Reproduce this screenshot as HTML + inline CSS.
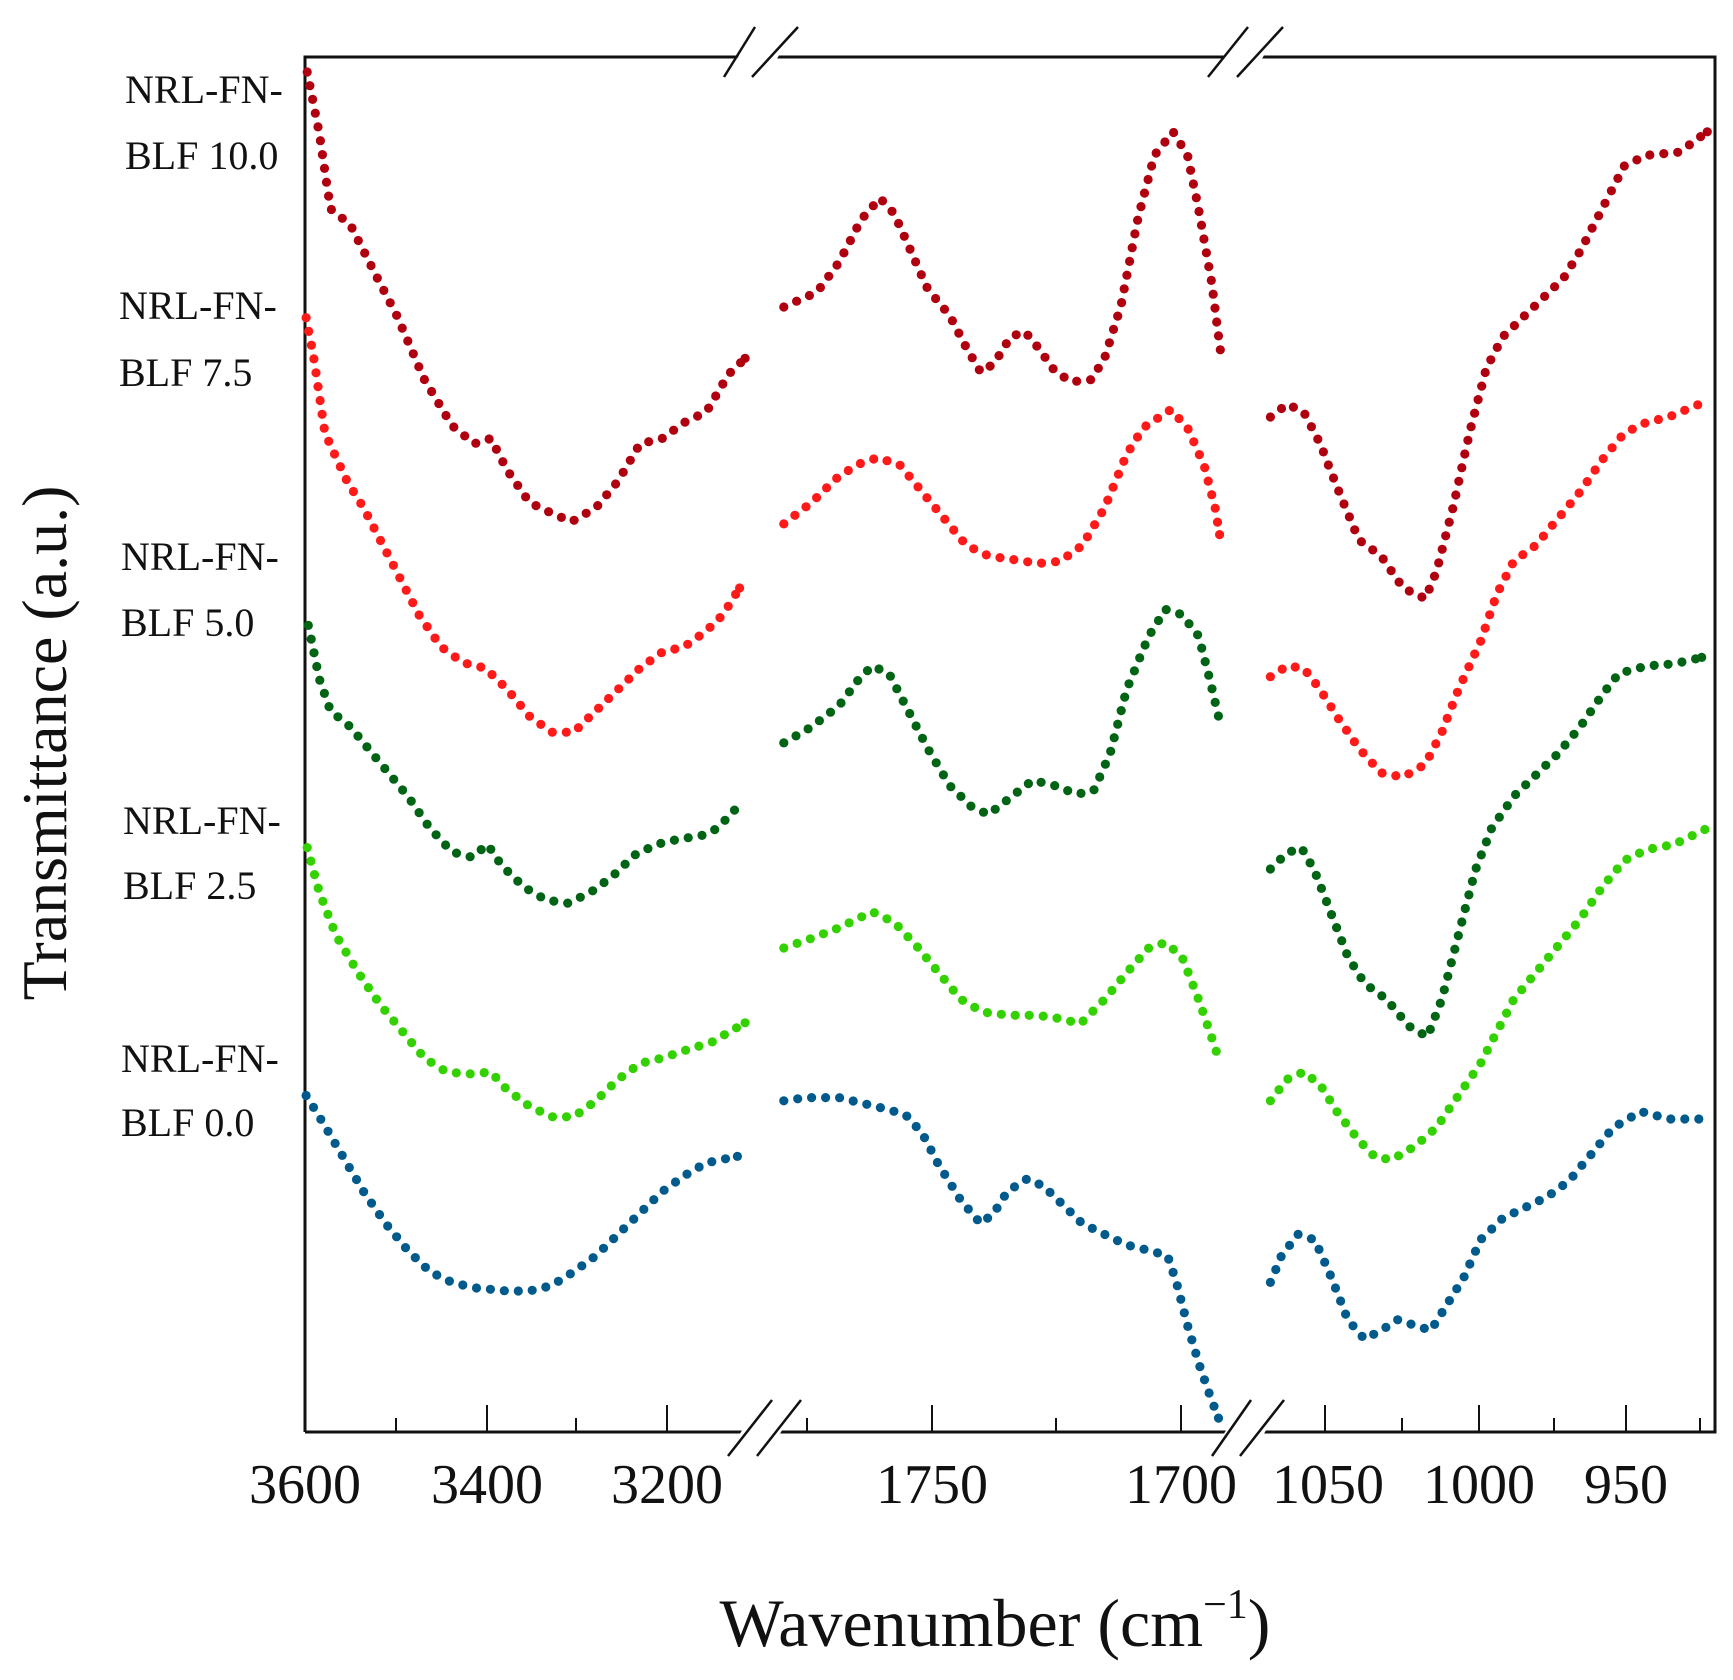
<!DOCTYPE html>
<html><head><meta charset="utf-8"><style>
html,body{margin:0;padding:0;background:#fff;}
svg{display:block;}
text{font-family:"Liberation Serif",serif;fill:#111;}
</style></head><body>
<svg id="s" width="1733" height="1680" viewBox="0 0 1733 1680" xmlns="http://www.w3.org/2000/svg">
<g stroke="#111" stroke-width="3" fill="none">
<path d="M305,1432 L305,57 L1715,57 L1715,1432 L305,1432"/>
</g>
<g stroke="#111" stroke-width="2">
<line x1="396" y1="1432" x2="396" y2="1418"/><line x1="487" y1="1432" x2="487" y2="1405"/>
<line x1="576" y1="1432" x2="576" y2="1418"/><line x1="667" y1="1432" x2="667" y2="1405"/>
<line x1="807" y1="1432" x2="807" y2="1418"/><line x1="932" y1="1432" x2="932" y2="1405"/>
<line x1="1056" y1="1432" x2="1056" y2="1418"/><line x1="1181" y1="1432" x2="1181" y2="1405"/>
<line x1="1325" y1="1432" x2="1325" y2="1405"/><line x1="1402" y1="1432" x2="1402" y2="1418"/>
<line x1="1479" y1="1432" x2="1479" y2="1405"/><line x1="1554" y1="1432" x2="1554" y2="1418"/>
<line x1="1626" y1="1432" x2="1626" y2="1405"/><line x1="1700" y1="1432" x2="1700" y2="1418"/>
</g>
<g fill="#fff" stroke="none">
<polygon points="741,52 781,52 775,62 735,62"/><polygon points="1226,52 1266,52 1260,62 1220,62"/>
<polygon points="744,1427 784,1427 778,1437 738,1437"/><polygon points="1228,1427 1268,1427 1262,1437 1222,1437"/>
</g>
<g stroke="#111" stroke-width="2.5">
<line x1="724" y1="77" x2="755" y2="27"/><line x1="752" y1="77" x2="798" y2="27"/>
<line x1="1208" y1="77" x2="1248" y2="27"/><line x1="1237" y1="77" x2="1283" y2="27"/>
<line x1="728" y1="1456" x2="772" y2="1400"/><line x1="757" y1="1456" x2="801" y2="1400"/>
<line x1="1212" y1="1456" x2="1251" y2="1400"/><line x1="1240" y1="1456" x2="1284" y2="1400"/>
</g>
<g font-size="56" text-anchor="middle">
<text x="305" y="1503">3600</text><text x="487" y="1503">3400</text><text x="667" y="1503">3200</text>
<text x="932" y="1503">1750</text><text x="1181" y="1503">1700</text>
<text x="1328" y="1503">1050</text><text x="1479" y="1503">1000</text><text x="1626" y="1503">950</text>
</g>
<text x="995" y="1646" font-size="68" text-anchor="middle">Wavenumber (cm<tspan font-size="42" dy="-28">−1</tspan><tspan dy="28">)</tspan></text>
<text transform="translate(66,743) rotate(-90)" font-size="64" text-anchor="middle">Transmittance (a.u.)</text>
<g font-size="40">
<text x="125" y="103">NRL-FN-</text><text x="125" y="169">BLF 10.0</text>
<text x="119" y="319">NRL-FN-</text><text x="119" y="386">BLF 7.5</text>
<text x="121" y="570">NRL-FN-</text><text x="121" y="636">BLF 5.0</text>
<text x="123" y="834">NRL-FN-</text><text x="123" y="899">BLF 2.5</text>
<text x="121" y="1072">NRL-FN-</text><text x="121" y="1136">BLF 0.0</text>
</g>
<g id="d"></g>
</svg>
<script>
var S={
"#b0000f":[
[[279,62],[290,120],[300,190],[318,205],[340,250],[360,290],[385,350],[410,393],[430,410],[445,405],[460,435],[480,465],[500,475],[518,483],[540,470],[560,445],[580,410],[600,405],[620,390],[640,380],[660,345],[675,330]],
[[710,282],[740,268],[760,240],[780,200],[797,180],[810,195],[825,230],[840,265],[860,290],[875,320],[888,343],[900,335],[915,310],[928,305],[940,320],[955,342],[970,352],[988,350],[1000,330],[1015,280],[1030,200],[1045,140],[1062,118],[1075,140],[1085,190],[1097,260],[1105,325]],
[[1150,385],[1165,373],[1180,380],[1195,410],[1210,450],[1230,500],[1250,515],[1270,545],[1290,555],[1300,530],[1315,470],[1330,400],[1345,340],[1360,310],[1380,290],[1400,270],[1415,255],[1430,230],[1450,190],[1470,150],[1490,140],[1520,137],[1545,118]]],
"#ff1a1a":[
[[278,292],[285,330],[295,400],[315,445],[330,470],[345,500],[360,530],[380,570],[400,600],[420,615],[440,620],[460,640],[480,665],[500,680],[520,680],[540,660],[560,640],[580,620],[600,605],[620,600],[640,585],[655,570],[670,545]],
[[710,485],[735,465],[760,440],[780,428],[795,423],[815,430],[835,455],[855,480],[875,505],[895,515],[915,518],[940,522],[960,520],[980,505],[1000,470],[1020,420],[1035,395],[1060,378],[1075,395],[1090,430],[1100,470],[1104,495]],
[[1150,628],[1165,618],[1180,620],[1195,640],[1210,665],[1230,695],[1250,718],[1270,722],[1290,710],[1305,680],[1320,640],[1340,595],[1355,550],[1370,520],[1390,505],[1410,480],[1430,455],[1450,425],[1470,400],[1490,390],[1510,385],[1540,372]]],
"#006414":[
[[280,580],[290,630],[300,660],[318,675],[330,690],[350,715],[370,740],[390,770],[410,792],[428,797],[442,785],[455,805],[475,825],[495,837],[515,840],[535,830],[555,815],[575,795],[595,785],[615,780],[635,777],[650,770],[668,750]],
[[710,690],[735,675],[760,655],[778,630],[790,618],[805,625],[820,655],[840,695],[860,730],[880,750],[895,757],[910,745],[935,725],[955,730],[975,738],[990,735],[1005,700],[1020,640],[1040,590],[1055,565],[1070,570],[1085,590],[1095,630],[1103,665]],
[[1150,808],[1165,793],[1178,788],[1190,810],[1205,850],[1220,890],[1235,915],[1255,930],[1275,955],[1292,965],[1305,930],[1320,870],[1335,810],[1350,770],[1370,740],[1390,720],[1410,700],[1430,675],[1450,645],[1465,625],[1490,618],[1515,616],[1540,610]]],
"#33d100":[
[[279,788],[290,830],[305,870],[325,905],[345,935],[365,960],[385,985],[405,998],[425,1000],[445,998],[460,1015],[480,1030],[500,1040],[520,1040],[540,1025],[560,1005],[580,990],[600,985],[620,978],[645,970],[675,952]],
[[710,882],[735,873],[760,863],[790,848],[810,858],[830,880],[850,905],[870,930],[890,942],[915,945],[940,945],[960,948],[978,953],[1000,930],[1020,905],[1040,882],[1055,877],[1070,890],[1085,930],[1095,960],[1102,982]],
[[1150,1025],[1165,1005],[1180,998],[1195,1010],[1210,1035],[1230,1062],[1245,1078],[1260,1080],[1280,1068],[1300,1050],[1320,1020],[1340,990],[1355,960],[1370,930],[1390,905],[1410,880],[1430,855],[1450,825],[1470,800],[1490,790],[1515,785],[1545,770]]],
"#005a8c":[
[[278,1020],[290,1040],[310,1075],[330,1110],[350,1140],[370,1165],[390,1185],[410,1195],[430,1200],[460,1203],[480,1203],[500,1198],[520,1185],[540,1170],[560,1150],[580,1130],[600,1110],[620,1095],[640,1083],[668,1077]],
[[710,1025],[730,1022],[760,1022],[780,1027],[800,1032],[820,1038],[835,1055],[850,1085],[870,1118],[888,1140],[900,1130],[912,1110],[930,1098],[945,1105],[960,1120],[980,1140],[1000,1150],[1020,1160],[1040,1165],[1057,1170],[1065,1195],[1075,1235],[1085,1270],[1095,1300],[1103,1322]],
[[1150,1195],[1160,1170],[1175,1150],[1190,1155],[1205,1190],[1220,1230],[1235,1248],[1250,1240],[1265,1230],[1280,1235],[1295,1240],[1310,1215],[1325,1190],[1340,1155],[1360,1135],[1380,1125],[1400,1115],[1420,1100],[1440,1075],[1460,1050],[1485,1035],[1510,1042],[1540,1042]]]
};
var g=document.getElementById("d"),h="";
function X(x){return 305+(x-277)*1410/1275;}
function Y(y){return 57+(y-48)*1375/1287;}
function dot(x,y,c){return '<circle cx="'+x.toFixed(1)+'" cy="'+y.toFixed(1)+'" r="4.6" fill="'+c+'"/>';}
for(var c in S){S[c].forEach(function(seg){
 var p=seg.map(function(q){return [X(q[0]),Y(q[1])];});
 var step=14,acc=0,lx=p[0][0],ly=p[0][1];
 h+=dot(lx,ly,c);
 for(var i=1;i<p.length;i++){
  var dx=p[i][0]-p[i-1][0],dy=p[i][1]-p[i-1][1],L=Math.sqrt(dx*dx+dy*dy),t=step-acc;
  while(t<=L){lx=p[i-1][0]+dx*t/L;ly=p[i-1][1]+dy*t/L;h+=dot(lx,ly,c);t+=step;}
  acc=L-(t-step);
 }
 var e=p[p.length-1];
 if(Math.hypot(e[0]-lx,e[1]-ly)>6)h+=dot(e[0],e[1],c);
});}
g.innerHTML=h;
</script>
</body></html>
